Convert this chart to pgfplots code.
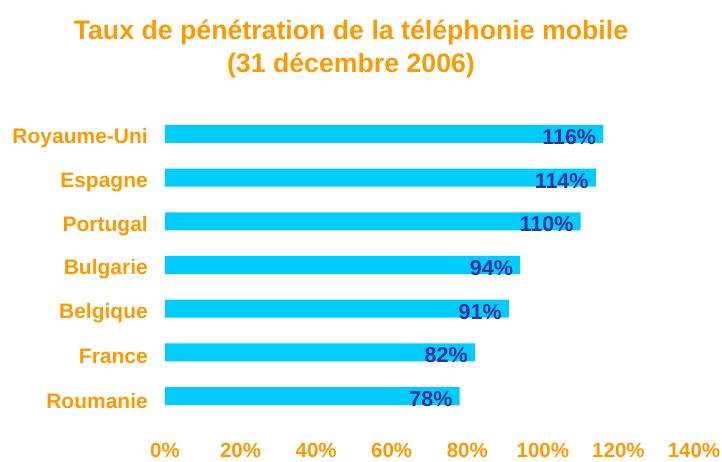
\documentclass[border=0pt]{standalone}
\usepackage{pgfplots}
\pgfplotsset{compat=1.18}
\usepackage{fontspec}
\setmainfont{Liberation Sans}
\definecolor{barcyan}{HTML}{00CCFF}
\definecolor{orangetxt}{HTML}{FF9900}
\definecolor{valblue}{HTML}{333399}
\begin{document}
\begin{tikzpicture}
\useasboundingbox (-165pt,-22.33pt) rectangle (557pt,439.67pt);
\begin{axis}[
  at={(0,0)}, anchor=south west,
  scale only axis,
  width=529pt, height=349.33pt,
  xbar, bar width=18pt,
  xmin=0, xmax=140,
  ymin=-1, ymax=7,
  axis line style={draw=none},
  major tick length=0pt,
  xtick={0,20,...,140},
  xticklabel={\pgfmathprintnumber{\tick}\%},
  ytick={0,...,6},
  yticklabels={Roumanie,France,Belgique,Bulgarie,Portugal,Espagne,Royaume-Uni},
  /pgf/number format/assume math mode=true,
  xticklabel style={font=\fontsize{20.5}{24}\selectfont\bfseries, text=orangetxt, inner sep=0pt, anchor=north, yshift=-3.5pt},
  yticklabel style={font=\fontsize{21}{24}\selectfont\bfseries, text=orangetxt, inner sep=0pt, anchor=east, xshift=-17pt, yshift=-4.5pt},
  nodes near coords={\pgfmathprintnumber{\pgfplotspointmeta}\%},
  point meta=x,
  nodes near coords style={font=\fontsize{21.5}{24}\selectfont\bfseries, text=valblue, anchor=east, inner sep=0pt, xshift=-7pt, yshift=-3pt},
  clip=false,
]
\addplot[fill=barcyan, draw=none] coordinates {
(78,0) (82,1) (91,2) (94,3) (110,4) (114,5) (116,6)
};
\node[font=\fontsize{26.7}{32.5}\selectfont\bfseries, text=orangetxt, align=center] at (rel axis cs:0.3516,1.1183) {Taux de pénétration de la téléphonie mobile\\(31 décembre 2006)};
\end{axis}
\end{tikzpicture}
\end{document}
